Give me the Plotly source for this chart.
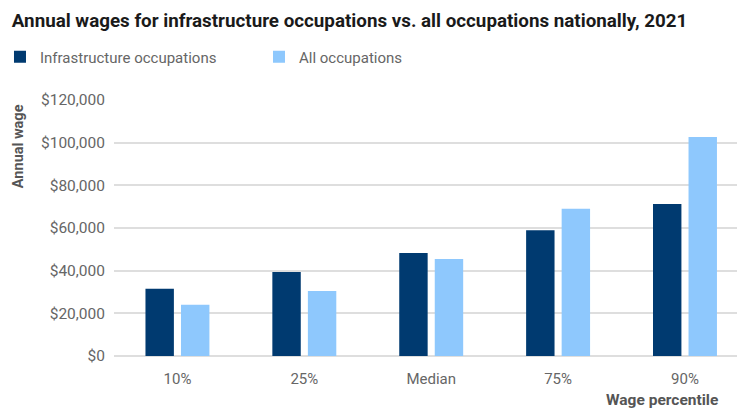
import plotly.graph_objects as go

categories = ["10%", "25%", "Median", "75%", "90%"]
infra = [31500, 39400, 48300, 59000, 71200]
all_occ = [24000, 30500, 45500, 69000, 102700]
tick_vals = [0, 20000, 40000, 60000, 80000, 100000, 120000]
tick_text = ["$0", "$20,000", "$40,000", "$60,000", "$80,000", "$100,000", "$120,000"]

fig = go.Figure()
fig.add_trace(go.Bar(x=categories, y=infra, name="Infrastructure occupations",
                     marker=dict(color="#003a70", line=dict(width=0))))
fig.add_trace(go.Bar(x=categories, y=all_occ, name="All occupations",
                     marker=dict(color="#8ec8fd", line=dict(width=0))))

fig.update_layout(
    width=737, height=409,
    margin=dict(l=114, r=0, t=100, b=53, autoexpand=False),
    paper_bgcolor="white", plot_bgcolor="white",
    font=dict(family="Roboto", color="#666666", size=15),
    barmode="group", bargap=0.44, bargroupgap=0.2,
    title=dict(text="<b>Annual wages for infrastructure occupations vs. all occupations nationally, 2021</b>",
               x=0.016, xanchor="left", y=0.949, yanchor="middle",
               font=dict(family="Roboto", size=18.8, color="#1a1a1a")),
    legend=dict(orientation="h", x=-0.183, xanchor="left", y=1.168, yanchor="middle",
                font=dict(size=15, color="#666666"), entrywidth=214, entrywidthmode="pixels",
                bgcolor="rgba(0,0,0,0)"),
    showlegend=True,
)
fig.update_xaxes(range=[-0.5, 4.41], showline=False, ticks="", showgrid=False,
                 ticklabelstandoff=12,
                 tickfont=dict(size=15, color="#666666"))
fig.update_yaxes(range=[0, 120000], tickvals=tick_vals, ticktext=tick_text,
                 showgrid=True, gridcolor="#dedede", gridwidth=1.5,
                 zeroline=True, zerolinecolor="#dedede", zerolinewidth=1.5,
                 ticks="", ticklabelstandoff=8,
                 tickfont=dict(size=15.5, color="#666666"))
fig.add_annotation(text="<b>Annual wage</b>", textangle=-90, xref="paper", yref="paper",
                   x=-0.154, y=0.82, xanchor="center", yanchor="middle", showarrow=False,
                   font=dict(size=14.5, color="#555555"))
fig.add_annotation(text="<b>Wage percentile</b>", xref="paper", yref="paper",
                   x=0.973, y=-0.172, xanchor="right", yanchor="middle", showarrow=False,
                   font=dict(size=15.5, color="#555555"))
fig.write_html("out.html", config={"displayModeBar": False},
               post_script="document.body.style.margin='0px';")
